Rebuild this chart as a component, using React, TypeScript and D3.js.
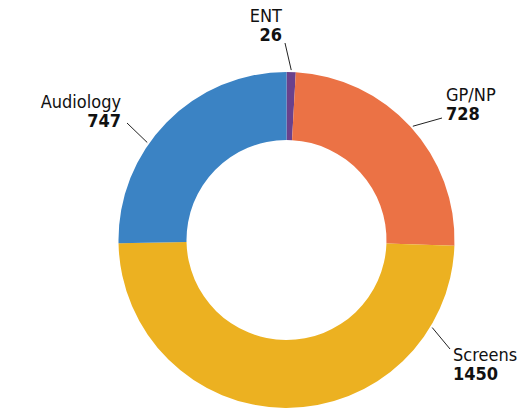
import React from 'react';
import * as d3 from 'd3';

const categories = ['ENT', 'GP/NP', 'Screens', 'Audiology'];
const values = [26, 728, 1450, 747];
const colors = ['#6a418c', '#eb7245', '#ecb121', '#3b83c4'];

// label placement (manual, like the original)
const labelSpots = [
  { angle: 1.6, end: [285, 43], x: 282, y: 22, gap: 19, anchor: 'end' },
  { angle: 48, end: [442, 118], x: 446, y: 101, gap: 19, anchor: 'start' },
  { angle: 121, end: [450, 349], x: 453, y: 361, gap: 19, anchor: 'start' },
  { angle: 305, end: [127, 123], x: 121, y: 108, gap: 19, anchor: 'end' },
];

const width = 522, height = 409;
const cx = 286.5, cy = 240;
const outerR = 168, innerR = 100;
const font = '"DejaVu Sans Condensed", "DejaVu Sans", sans-serif';

export default function App() {
  const pie = d3.pie<number>().sort(null).value(d => d);
  const arcs = pie(values);
  const arc = d3.arc<d3.PieArcDatum<number>>().innerRadius(innerR).outerRadius(outerR);

  return (
    <svg width={width} height={height} style={{ position: 'absolute', left: 0, top: 0 }}>
      <g transform={`translate(${cx},${cy})`}>
        {arcs.map((a, i) => (
          <path key={i} d={arc(a) || ''} fill={colors[i]} />
        ))}
      </g>
      {labelSpots.map((s, i) => {
        const rad = (s.angle * Math.PI) / 180;
        const x1 = cx + (outerR + 2) * Math.sin(rad);
        const y1 = cy - (outerR + 2) * Math.cos(rad);
        return (
          <g key={i} fontFamily={font} fill="#111">
            <line x1={x1} y1={y1} x2={s.end[0]} y2={s.end[1]} stroke="#222" strokeWidth={1} />
            <text x={s.x} y={s.y} textAnchor={s.anchor} fontSize={18}>
              <tspan x={s.x}>{categories[i]}</tspan>
              <tspan x={s.x} dy={s.gap} fontWeight="bold">{values[i]}</tspan>
            </text>
          </g>
        );
      })}
    </svg>
  );
}
